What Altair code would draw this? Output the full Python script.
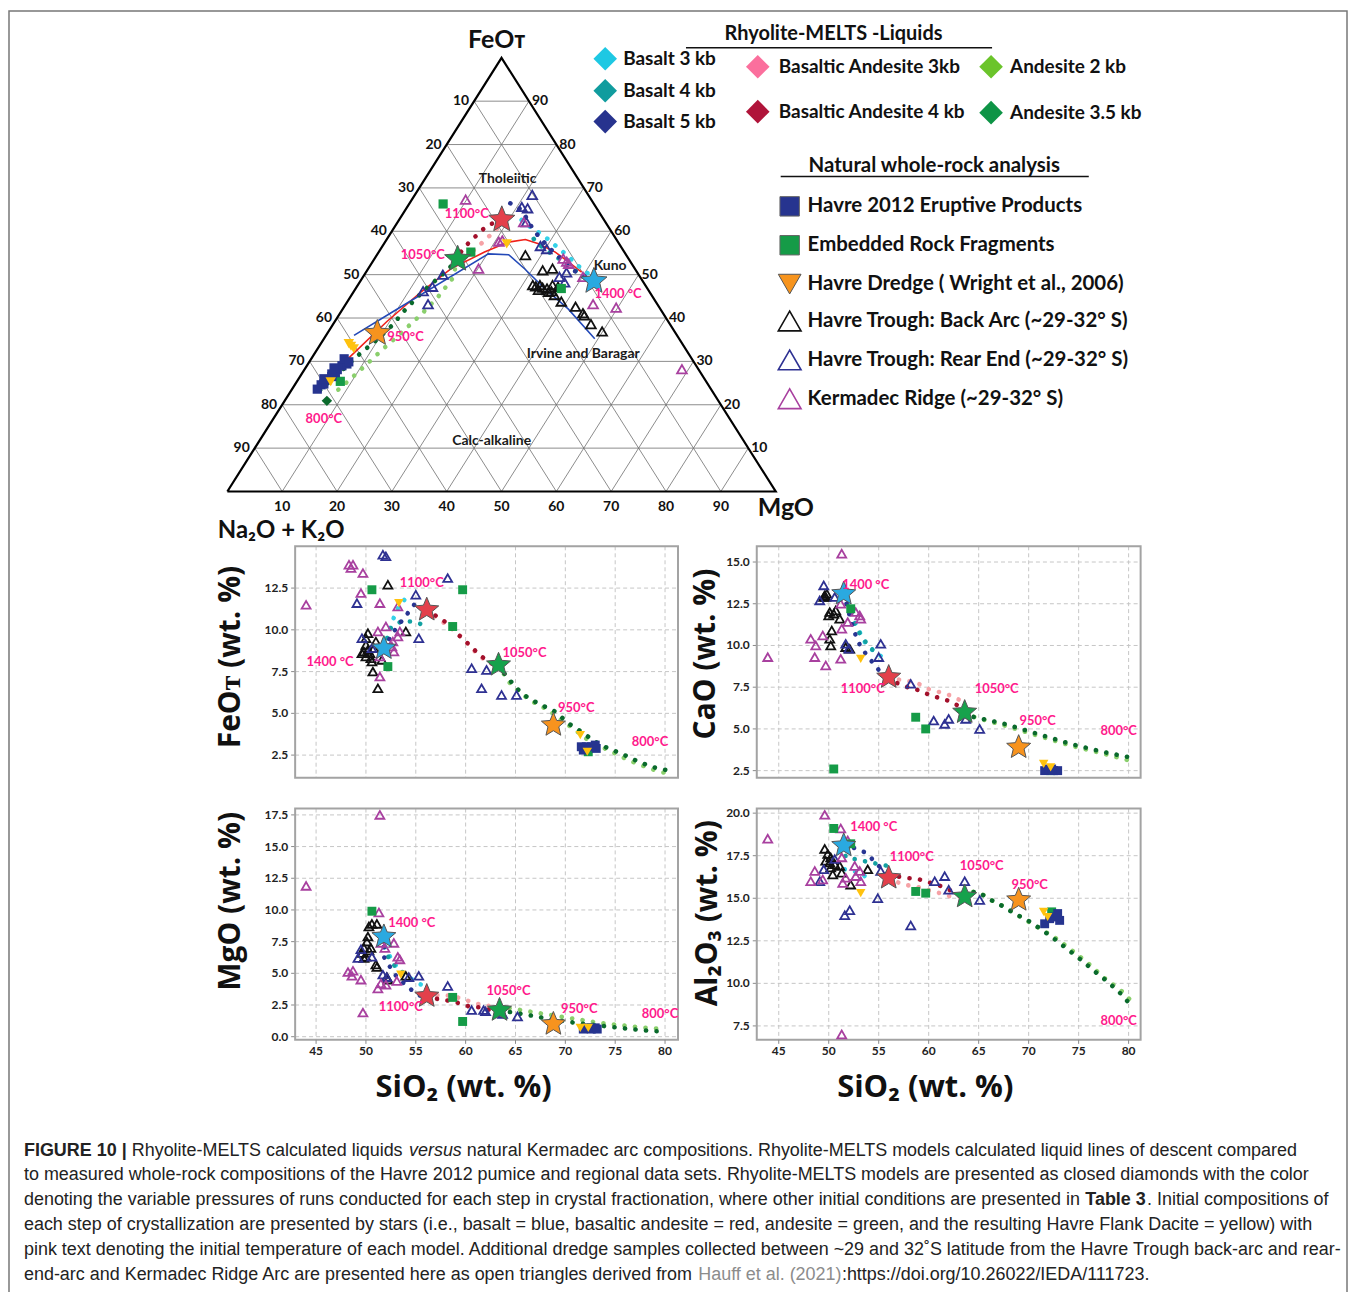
import altair as alt
import pandas as pd

# ============================== DATA ==============================
MODEL_NAMES = ["Basalt 3 kb", "Basalt 4 kb", "Basalt 5 kb",
               "Basaltic Andesite 3kb", "Basaltic Andesite 4 kb",
               "Andesite 2 kb", "Andesite 3.5 kb"]
NATURAL_NAMES = ["Havre 2012 Eruptive Products", "Embedded Rock Fragments",
                 "Havre Dredge ( Wright et al., 2006)",
                 "Havre Trough: Back Arc (~29-32° S)",
                 "Havre Trough: Rear End (~29-32° S)",
                 "Kermadec Ridge (~29-32° S)"]
STAR_NAMES = ["basalt", "basaltic andesite", "andesite", "dacite"]
TEMP_NAMES = ["1400 °C", "1100°C", "1050°C", "950°C", "800°C"]

# ---- AFM ternary, pairs are (FeOT %, MgO %); Na2O+K2O = 100 - FeOT - MgO ----
TERN_TICKS = [10, 20, 30, 40, 50, 60, 70, 80, 90]
TERN_CORNERS = [(0, 0), (0, 100), (100, 0), (0, 0)]
TERN_BASALT_3KB = [(48.5, 42.6), (49.9, 41.2), (52.0, 38.0), (54.1, 35.2), (56.2, 32.2),
                   (58.3, 29.2), (60.0, 26.5), (61.7, 23.6), (63.0, 21.8)]
TERN_BASALT_4KB = [(48.5, 42.6), (49.1, 40.9), (51.4, 37.2), (53.9, 33.3), (56.0, 29.7),
                   (58.0, 27.0), (59.8, 25.2)]
TERN_BASALT_5KB = [(48.5, 42.6), (51.0, 37.6), (56.3, 30.4), (60.0, 26.0), (62.1, 23.9),
                   (63.6, 22.5), (65.1, 20.9), (66.7, 17.9)]
TERN_BAS_AND_3KB = [(62.7, 18.7), (61.0, 19.0), (58.5, 18.2), (56.0, 17.3), (53.8, 16.3)]
TERN_BAS_AND_4KB = [(62.7, 18.7), (61.3, 16.7), (59.0, 15.9), (56.8, 15.2), (54.5, 14.9),
                    (53.6, 15.2)]
TERN_AND_2KB = [(53.6, 15.2), (49.1, 16.5), (45.0, 16.0), (41.0, 15.0), (36.8, 13.5),
                (33.0, 12.0), (29.5, 10.8), (26.0, 9.5), (23.0, 8.3)]
TERN_AND_35KB = [(53.6, 15.2), (51.0, 14.6), (46.1, 12.6), (42.0, 11.5), (38.3, 10.9),
                 (35.0, 9.8), (32.9, 8.8), (30.5, 7.8), (28.0, 7.0), (25.5, 6.0),
                 (23.0, 5.1), (21.5, 5.6)]
TERN_AND_35KB_END = [(20.9, 7.7)]
TERN_KUNO_LINE = [(23.9, 4.2), (31.0, 6.8), (39.2, 9.5), (46.0, 12.3), (51.4, 15.1),
                  (55.2, 19.3), (57.5, 22.5), (58.1, 25.3), (57.1, 28.2), (55.2, 32.2),
                  (52.9, 35.8), (50.6, 39.3)]
TERN_IB_LINE = [(36.0, 5.1), (41.4, 9.4), (54.8, 20.2), (54.6, 24.0), (51.3, 28.6),
                (46.7, 34.6), (42.1, 41.1), (35.2, 49.4)]
TERN_HAVRE2012 = [(24.6, 4.8), (25.8, 5.3), (27.1, 5.5), (28.1, 6.0), (29.0, 6.4), (29.4, 7.1),
                  (24.8, 5.2), (27.4, 6.0), (30.6, 6.0), (29.9, 7.2), (26.0, 4.6), (28.5, 5.2),
                  (23.6, 4.6), (26.5, 5.8)]
TERN_EMBEDDED = [(66.3, 6.2), (55.2, 16.8), (25.4, 7.9), (46.8, 37.5)]
TERN_DREDGE = [(34.1, 5.1), (32.9, 6.6), (33.5, 5.8), (25.3, 6.2), (57.1, 22.4)]
TERN_BACKARC = [(54.5, 27.1), (51.0, 32.0), (51.4, 33.6), (47.6, 31.9), (47.3, 32.6),
                (46.8, 34.9), (47.6, 35.5), (47.2, 36.7), (45.3, 37.0), (46.2, 36.0),
                (43.8, 39.0), (42.6, 42.2), (41.1, 44.3), (40.6, 44.8), (38.6, 47.0),
                (36.9, 49.9), (47.6, 33.2), (46.0, 35.6), (47.0, 34.0), (46.5, 33.5)]
TERN_REAREND = [(68.4, 21.4), (65.6, 20.9), (65.3, 22.1), (62.1, 23.5), (56.6, 28.8),
                (55.9, 30.3), (49.5, 35.8), (50.5, 36.6), (50.0, 14.3), (47.2, 13.8),
                (46.2, 12.6), (43.2, 15.0), (48.2, 37.4)]
TERN_KERMADEC = [(67.3, 9.8), (57.9, 21.2), (51.4, 20.1), (62.1, 23.0), (53.7, 34.4),
                 (53.0, 35.4), (49.5, 40.1), (43.2, 45.1), (42.4, 49.7), (28.2, 68.8),
                 (57.6, 20.7), (52.5, 36.0)]
TERN_STARS = [(48.5, 42.6), (62.7, 18.7), (53.6, 15.2), (36.5, 9.1)]
TERN_TEMP_LABELS = [(45.5, 48.5), (63.9, 11.7), (54.5, 8.4), (35.6, 14.7), (16.6, 9.3)]
TERN_REGION_NAMES = ["Tholeiitic", "Kuno", "Irvine and Baragar", "Calc-alkaline"]
TERN_REGION_POS = [(72.0, 15.1), (52.0, 43.8), (31.7, 49.05), (11.7, 42.35)]

# ---- Harker diagrams, pairs are (SiO2, oxide) in wt.% ----
HARKER_X_TICKS = [45, 50, 55, 60, 65, 70, 75, 80]
FEO_TICKS = [2.5, 5.0, 7.5, 10.0, 12.5]
CAO_TICKS = [2.5, 5.0, 7.5, 10.0, 12.5, 15.0]
MGO_TICKS = [0.0, 2.5, 5.0, 7.5, 10.0, 12.5, 15.0, 17.5]
AL_TICKS = [7.5, 10.0, 12.5, 15.0, 17.5, 20.0]

FEO_KERMADEC = [(44.0, 11.5), (48.3, 13.9), (48.7, 13.9), (48.5, 13.7), (49.7, 13.4), (49.5, 12.2),
                (51.4, 11.6), (53.2, 11.4), (51.2, 9.9), (52.0, 10.2), (52.7, 9.3), (53.2, 9.6),
                (53.4, 9.9), (52.8, 8.7), (51.4, 8.4), (51.4, 7.2), (52.6, 9.0)]
FEO_REAREND = [(51.7, 14.5), (52.0, 14.4), (49.1, 11.6), (49.6, 9.5), (50.6, 8.9), (55.0, 12.1),
               (55.3, 9.5), (58.2, 13.1), (60.6, 7.7), (62.1, 7.6), (61.6, 6.5), (63.6, 6.1),
               (65.1, 6.1)]
FEO_BACKARC = [(50.2, 9.8), (50.0, 9.5), (49.8, 8.7), (50.0, 8.4), (50.2, 8.8), (50.5, 8.3),
               (50.8, 8.9), (50.6, 8.1), (51.6, 8.2), (52.2, 12.7), (54.0, 9.9), (50.7, 7.5),
               (51.2, 6.5), (50.0, 9.1), (51.0, 9.3), (49.6, 8.6), (50.4, 8.6)]
FEO_HAVRE2012 = [(71.6, 3.0), (72.1, 3.0), (72.6, 3.0), (73.1, 2.9), (71.8, 2.8), (73.0, 3.1)]
FEO_EMBEDDED = [(50.6, 12.4), (52.2, 7.8), (58.7, 10.2), (59.7, 12.4), (72.3, 2.7)]
FEO_DREDGE = [(53.3, 11.6), (71.5, 3.7), (72.2, 2.7)]
FEO_STARS = [(51.8, 8.9), (56.1, 11.2), (63.3, 7.9), (68.8, 4.3)]
FEO_BASALT_3KB = [(51.8, 8.9), (52.2, 9.7), (52.7, 10.6), (53.3, 11.4), (54.0, 11.9), (54.3, 12.0)]
FEO_BASALT_4KB = [(51.8, 8.9), (52.5, 10.1), (53.5, 10.5), (54.5, 10.5), (55.3, 10.4), (56.0, 10.2)]
FEO_BASALT_5KB = [(51.8, 8.9), (52.8, 9.9), (53.8, 10.7), (54.6, 11.3), (55.3, 11.9)]
FEO_BAS_AND_3KB = [(56.1, 11.2), (57.4, 10.6), (58.8, 10.0), (60.0, 9.3), (61.1, 8.6), (62.3, 8.0)]
FEO_BAS_AND_4KB = [(56.1, 11.2), (57.9, 10.5), (59.1, 9.8), (60.2, 9.2), (61.4, 8.5), (62.5, 8.0),
                   (63.3, 7.9)]
FEO_AND_2KB = [(63.3, 7.9), (64.3, 6.9), (65.5, 6.2), (67.0, 5.6), (68.3, 5.2), (69.6, 4.6),
               (71.0, 4.0), (72.3, 3.4), (73.6, 3.0), (75.0, 2.6), (76.3, 2.2), (77.6, 1.9),
               (79.0, 1.6), (80.2, 1.4)]
FEO_AND_35KB = [(63.3, 7.9), (64.1, 7.2), (65.3, 6.4), (66.3, 5.9), (67.6, 5.5), (69.0, 5.1),
                (70.3, 4.4), (71.6, 3.9), (73.0, 3.3), (74.3, 2.9), (75.6, 2.6), (77.0, 2.2),
                (78.6, 1.8), (80.2, 1.6)]
FEO_TEMP_LABELS = [(46.4, 8.1), (55.6, 12.8), (65.9, 8.6), (71.1, 5.3), (78.5, 3.3)]

CAO_KERMADEC = [(43.9, 9.3), (51.3, 15.5), (48.2, 10.4), (48.7, 10.0), (49.4, 10.6), (48.6, 9.3),
                (49.7, 8.8), (51.2, 9.2), (51.3, 11.0), (51.2, 12.5), (51.9, 11.4), (52.7, 12.0),
                (53.1, 11.8), (53.2, 11.6)]
CAO_REAREND = [(49.5, 13.6), (49.1, 12.7), (50.6, 12.9), (51.7, 10.1), (52.0, 9.8), (55.2, 10.1),
               (55.0, 9.3), (58.2, 7.7), (60.5, 5.5), (61.6, 5.3), (62.0, 5.6), (63.7, 5.6),
               (65.1, 5.0)]
CAO_BACKARC = [(49.6, 13.0), (49.5, 12.9), (49.8, 13.1), (50.1, 12.0), (50.5, 11.9), (50.7, 12.1),
               (51.1, 11.6), (50.3, 10.9), (50.1, 10.4), (50.2, 10.0), (51.7, 9.9), (52.1, 9.8),
               (49.7, 12.9), (50.0, 11.8)]
CAO_HAVRE2012 = [(71.6, 2.5), (72.0, 2.6), (72.5, 2.5), (72.9, 2.5), (72.3, 2.6)]
CAO_EMBEDDED = [(50.5, 2.6), (58.7, 5.7), (59.7, 5.0), (52.2, 12.2), (72.2, 2.5)]
CAO_DREDGE = [(53.2, 9.2), (71.5, 2.9), (72.2, 2.7)]
CAO_STARS = [(51.5, 13.1), (56.0, 8.1), (63.6, 6.0), (69.0, 3.9)]
CAO_BASALT_3KB = [(51.5, 13.1), (51.9, 12.4), (52.5, 11.6), (53.1, 10.8), (53.7, 10.1), (54.6, 9.6),
                  (55.4, 9.3), (55.9, 9.0)]
CAO_BASALT_4KB = [(51.5, 13.1), (52.0, 12.2), (52.6, 11.3), (53.2, 10.6), (54.1, 9.9), (55.0, 9.4)]
CAO_BASALT_5KB = [(51.5, 13.1), (51.9, 12.2), (52.5, 10.9), (53.2, 9.9), (54.1, 9.2), (54.9, 8.6),
                  (55.7, 8.1)]
CAO_BAS_AND_3KB = [(56.0, 8.1), (57.4, 7.9), (58.7, 7.8), (59.9, 7.4), (61.1, 7.2), (62.2, 7.0),
                   (63.2, 6.7)]
CAO_BAS_AND_4KB = [(56.0, 8.1), (56.6, 7.8), (57.9, 7.5), (59.1, 7.3), (60.2, 7.0), (61.4, 6.8),
                   (62.4, 6.6), (63.4, 6.2)]
CAO_AND_2KB = [(63.6, 6.0), (64.6, 5.7), (67.6, 5.2), (70.9, 4.6), (74.2, 4.0), (77.6, 3.5),
               (80.1, 3.1)]
CAO_AND_35KB = [(63.6, 6.0), (63.9, 5.8), (67.6, 5.3), (70.9, 4.7), (74.2, 4.1), (77.6, 3.6),
                (80.1, 3.3)]
CAO_TEMP_LABELS = [(53.7, 13.65), (53.4, 7.4), (66.8, 7.4), (70.9, 5.5), (79.0, 4.85)]

MGO_KERMADEC = [(44.0, 11.9), (51.4, 17.5), (51.3, 9.8), (48.2, 5.1), (48.7, 5.2), (48.6, 4.8),
                (49.5, 4.5), (49.7, 1.9), (51.2, 3.8), (51.5, 4.2), (52.0, 4.1), (52.8, 7.4),
                (53.2, 6.3), (53.4, 6.1), (53.1, 4.4), (51.5, 7.4), (51.9, 7.0)]
MGO_REAREND = [(49.5, 6.9), (49.2, 6.2), (50.6, 6.3), (51.7, 4.9), (52.1, 4.7), (55.3, 4.8),
               (54.3, 4.7), (58.2, 4.0), (60.6, 2.1), (61.8, 2.1), (62.0, 2.0), (63.7, 1.8),
               (65.2, 1.6)]
MGO_BACKARC = [(50.3, 8.7), (50.6, 8.9), (51.1, 8.9), (50.2, 7.9), (50.1, 7.5), (49.8, 7.0),
               (50.3, 6.8), (50.5, 7.0), (49.6, 6.6), (50.0, 6.3), (49.8, 6.2), (51.0, 5.7),
               (51.1, 5.5), (52.1, 4.7), (54.0, 4.8), (52.2, 4.5)]
MGO_HAVRE2012 = [(71.8, 0.6), (72.2, 0.7), (72.6, 0.6), (73.0, 0.7), (73.2, 0.6)]
MGO_EMBEDDED = [(50.6, 9.9), (58.7, 3.1), (59.7, 1.2), (72.6, 0.7)]
MGO_DREDGE = [(53.5, 4.9), (71.5, 0.7), (72.3, 0.7)]
MGO_STARS = [(51.8, 7.9), (56.1, 3.2), (63.4, 2.1), (68.8, 1.0)]
MGO_BASALT_3KB = [(51.8, 7.9), (51.8, 7.5), (52.1, 6.7), (52.6, 6.1), (53.1, 5.5), (53.8, 5.0),
                  (54.5, 4.6), (55.1, 4.3), (56.0, 3.9)]
MGO_BASALT_4KB = [(51.8, 7.9), (51.8, 7.2), (52.1, 6.5), (52.6, 5.8), (53.3, 5.3), (54.0, 4.9)]
MGO_BASALT_5KB = [(51.8, 7.9), (51.8, 6.3), (52.5, 5.4), (53.2, 4.6), (54.0, 4.1), (54.7, 3.6),
                  (55.5, 3.2), (56.1, 3.2)]
MGO_BAS_AND_3KB = [(56.1, 3.2), (57.5, 3.3), (58.8, 3.2), (60.0, 2.9), (61.1, 2.6), (62.1, 2.5),
                   (63.4, 2.1)]
MGO_BAS_AND_4KB = [(56.1, 3.2), (57.0, 3.0), (57.9, 2.9), (59.1, 2.7), (60.3, 2.4), (61.5, 2.3),
                   (62.5, 2.1)]
MGO_AND_2KB = [(63.4, 2.1), (64.0, 2.3), (66.3, 2.0), (68.6, 1.7), (71.0, 1.4), (73.3, 1.1),
               (75.6, 0.9), (78.0, 0.7), (80.1, 0.6)]
MGO_AND_35KB = [(63.4, 2.1), (64.0, 2.0), (66.0, 1.75), (68.0, 1.45), (70.0, 1.2), (72.0, 1.0),
                (74.3, 0.8), (76.6, 0.6), (78.6, 0.45), (80.1, 0.4)]
MGO_TEMP_LABELS = [(54.6, 9.0), (53.5, 2.35), (64.3, 3.6), (71.4, 2.2), (79.5, 1.8)]

AL_KERMADEC = [(43.9, 18.5), (49.6, 19.9), (51.2, 19.1), (51.3, 7.0), (48.6, 16.6), (48.2, 16.0),
               (49.4, 16.1), (51.3, 17.4), (51.9, 18.4), (51.4, 15.9), (51.7, 16.2), (52.6, 16.9),
               (52.7, 16.3), (53.1, 16.6), (53.2, 16.0)]
AL_REAREND = [(49.5, 16.7), (49.1, 16.0), (50.6, 17.3), (51.6, 14.0), (52.1, 14.3), (54.9, 15.0),
              (55.2, 16.6), (58.2, 13.4), (60.6, 16.0), (61.6, 16.3), (62.0, 15.5), (63.6, 16.0),
              (65.1, 14.9)]
AL_BACKARC = [(49.6, 17.9), (49.9, 17.6), (50.2, 17.4), (50.1, 17.1), (50.6, 17.0), (50.4, 16.4),
              (51.1, 16.9), (51.3, 16.5), (52.2, 15.8), (53.9, 16.7), (49.7, 17.2), (50.2, 16.8)]
AL_HAVRE2012 = [(71.6, 13.5), (72.1, 13.8), (72.6, 13.9), (73.1, 13.7), (72.9, 14.1)]
AL_EMBEDDED = [(50.5, 19.1), (52.2, 18.2), (58.7, 15.4), (59.7, 15.3), (72.3, 14.2)]
AL_DREDGE = [(53.2, 15.3), (71.5, 14.2), (71.9, 13.9)]
AL_STARS = [(51.5, 18.1), (56.0, 16.2), (63.6, 15.1), (69.0, 14.9)]
AL_BASALT_3KB = [(51.6, 16.7), (52.4, 16.6), (53.1, 16.5), (53.6, 16.3), (54.1, 16.0)]
AL_BASALT_4KB = [(51.5, 18.1), (51.7, 17.4), (52.6, 17.3), (53.4, 17.2), (54.2, 17.1), (55.1, 17.0),
                 (55.9, 16.9)]
AL_BASALT_5KB = [(51.5, 18.1), (52.2, 18.0), (52.9, 17.9), (53.6, 17.7), (54.2, 17.4), (54.8, 17.0),
                 (55.4, 16.7), (55.8, 16.4)]
AL_BAS_AND_3KB = [(56.0, 16.2), (57.4, 15.8), (58.7, 15.7), (59.8, 15.5), (61.1, 15.3), (62.2, 15.1),
                  (63.6, 15.1)]
AL_BAS_AND_4KB = [(56.0, 16.2), (56.6, 16.3), (57.8, 16.2), (59.1, 16.1), (60.2, 15.9), (61.3, 15.7),
                  (62.4, 15.4)]
AL_AND_2KB = [(63.6, 15.1), (64.2, 15.4), (65.2, 15.3), (66.2, 14.9), (67.6, 14.5), (69.2, 13.9),
              (70.9, 13.3), (72.6, 12.7), (74.2, 12.0), (75.9, 11.2), (77.6, 10.3), (79.2, 9.6),
              (80.2, 9.0)]
AL_AND_35KB = [(63.6, 15.1), (63.9, 15.3), (64.9, 15.4), (65.9, 15.0), (67.2, 14.6), (68.6, 14.1),
               (69.9, 13.7), (71.2, 13.2), (72.6, 12.6), (73.9, 12.0), (75.2, 11.4), (76.6, 10.7),
               (77.9, 10.1), (79.2, 9.4), (80.1, 8.8)]
AL_TEMP_LABELS = [(54.5, 19.2), (58.3, 17.4), (65.3, 16.9), (70.1, 15.8), (79.0, 7.8)]

# caption: each line is a list of (text segment, style, space-after)
CAPTION_LINES = [
    [("FIGURE 10 |", "bold", True), ("Rhyolite-MELTS calculated liquids", "normal", True),
     ("versus", "italic", True),
     ("natural Kermadec arc compositions. Rhyolite-MELTS models calculated liquid lines of descent compared",
      "normal", False)],
    [("to measured whole-rock compositions of the Havre 2012 pumice and regional data sets. Rhyolite-MELTS models are presented as closed diamonds with the color",
      "normal", False)],
    [("denoting the variable pressures of runs conducted for each step in crystal fractionation, where other initial conditions are presented in",
      "normal", True), ("Table 3", "bold", False), (". Initial compositions of", "normal", False)],
    [("each step of crystallization are presented by stars (i.e., basalt = blue, basaltic andesite = red, andesite = green, and the resulting Havre Flank Dacite = yellow) with",
      "normal", False)],
    [("pink text denoting the initial temperature of each model. Additional dredge samples collected between ~29 and 32˚S latitude from the Havre Trough back-arc and rear-",
      "normal", False)],
    [("end-arc and Kermadec Ridge Arc are presented here as open triangles derived from", "normal", True),
     ("Hauff et al. (2021)", "link", False), (":https://doi.org/10.26022/IEDA/111723.", "normal", False)],
]

# ============================== STYLE / LAYOUT ==============================
W, H = 1340, 1284
FONT = "Lato"
TFONT = "Open Sans"
CFONT = "Liberation Sans"
CAP_SIZE = 18
PINK = "#FF1A8C"
GRID = "#C6C6C6"
MODEL_DIAMOND_COLORS = ["#1EC8E3", "#109C9E", "#27338E", "#FB6F9D", "#B0143A", "#6BC42B", "#0E9446"]
MODEL_DOT_COLORS = ["#35D2E8", "#12A1A1", "#283592", "#F6A2A6", "#A3102B", "#8ACF6C", "#0A6A2C"]
NATURAL_COLORS = ["#26348F", "#159B47", "#F7941D", "#111111", "#2E3192", "#A8409F"]
DREDGE_DATA_COLOR = "#FFC20E"
STAR_COLORS = ["#2AA9E0", "#E3404B", "#16A24C", "#F7931E"]
STAR_PATH = ("M0,-1L0.2645,-0.364L0.951,-0.309L0.428,0.139L0.588,0.809L0,0.45"
             "L-0.588,0.809L-0.428,0.139L-0.951,-0.309L-0.2645,-0.364Z")
DOTS = dict(strokeWidth=4.6, strokeCap="round", strokeDash=[0.1, 10.5], opacity=1)

TRI_NAMES = NATURAL_NAMES[3:]
TRI_COLORS = NATURAL_COLORS[3:]
SQ_NAMES = NATURAL_NAMES[:2]
SQ_COLORS = NATURAL_COLORS[:2]
model_color = alt.Color("series:N", scale=alt.Scale(domain=MODEL_NAMES, range=MODEL_DOT_COLORS), legend=None)
tri_color = alt.Color("series:N", scale=alt.Scale(domain=TRI_NAMES, range=TRI_COLORS), legend=None)
sq_color = alt.Color("series:N", scale=alt.Scale(domain=SQ_NAMES, range=SQ_COLORS), legend=None)
star_fill = alt.Fill("series:N", scale=alt.Scale(domain=STAR_NAMES, range=STAR_COLORS), legend=None)
one = pd.DataFrame({"a": [0]})


def pairs_df(pairs, series, a, b):
    return pd.DataFrame({"series": [series] * len(pairs), "idx": list(range(len(pairs))),
                         a: [p[0] for p in pairs], b: [p[1] for p in pairs]})


def stack(named, a, b):
    return pd.concat([pairs_df(p, n, a, b) for n, p in named], ignore_index=True)


def labels_df(texts, pairs, a, b):
    df = pairs_df(pairs, "lbl", a, b)
    df["label"] = texts
    return df


# ============================== TERNARY ==============================
TX = alt.X("tx:Q", scale=alt.Scale(domain=[0, 100], range=[220, 770], nice=False, zero=False), axis=None)
TY = alt.Y("F:Q", scale=alt.Scale(domain=[0, 100], range=[482, 47], nice=False, zero=False), axis=None)


def tern(df):
    return alt.Chart(df).transform_calculate(tx="datum.M + datum.F / 2")


grid_rows = []
for v in TERN_TICKS:
    grid_rows.append({"F": v, "M": 0, "F2": v, "M2": 100 - v})
    grid_rows.append({"F": 0, "M": v, "F2": 100 - v, "M2": v})
    grid_rows.append({"F": 0, "M": 100 - v, "F2": 100 - v, "M2": 0})
t_grid = alt.Chart(pd.DataFrame(grid_rows)).transform_calculate(
    tx="datum.M + datum.F / 2", tx2="datum.M2 + datum.F2 / 2"
).mark_rule(color="#6E6E6E", strokeWidth=0.8).encode(TX, TY, x2="tx2:Q", y2="F2:Q")
t_edges = tern(pairs_df(TERN_CORNERS, "edge", "F", "M")).mark_line(
    color="#000000", strokeWidth=2.2, strokeJoin="miter").encode(TX, TY, order="idx:Q")
tern_models = list(zip(MODEL_NAMES, [TERN_BASALT_3KB, TERN_BASALT_4KB, TERN_BASALT_5KB, TERN_BAS_AND_3KB,
                                     TERN_BAS_AND_4KB, TERN_AND_2KB, TERN_AND_35KB]))
t_lines = tern(stack(tern_models, "F", "M")).mark_line(**DOTS).encode(TX, TY, color=model_color, order="idx:Q")
t_end = tern(pairs_df(TERN_AND_35KB_END, "end", "F", "M")).mark_point(
    shape="diamond", filled=True, size=110, opacity=1, color=MODEL_DOT_COLORS[6]).encode(TX, TY)
t_kuno = tern(pairs_df(TERN_KUNO_LINE, "kuno", "F", "M")).mark_line(
    color="#F0201A", strokeWidth=1.6).encode(TX, TY, order="idx:Q")
t_ib = tern(pairs_df(TERN_IB_LINE, "ib", "F", "M")).mark_line(
    color="#2349B8", strokeWidth=1.6).encode(TX, TY, order="idx:Q")
t_tri = tern(stack([(TRI_NAMES[0], TERN_BACKARC), (TRI_NAMES[1], TERN_REAREND),
                    (TRI_NAMES[2], TERN_KERMADEC)], "F", "M")).mark_point(
    shape="triangle-up", filled=False, strokeWidth=1.8, size=95, opacity=1).encode(TX, TY, color=tri_color)
t_sq = tern(stack([(SQ_NAMES[1], TERN_EMBEDDED), (SQ_NAMES[0], TERN_HAVRE2012)], "F", "M")).mark_point(
    shape="square", filled=True, size=85, opacity=1).encode(TX, TY, color=sq_color)
t_dr = tern(pairs_df(TERN_DREDGE, "dredge", "F", "M")).mark_point(
    shape="triangle-down", filled=True, size=110, opacity=1, color=DREDGE_DATA_COLOR).encode(TX, TY)
t_stars = tern(pd.DataFrame({"series": STAR_NAMES, "F": [p[0] for p in TERN_STARS],
                             "M": [p[1] for p in TERN_STARS]})).mark_point(
    shape=STAR_PATH, filled=True, size=760, opacity=1, stroke="#555555", strokeWidth=1).encode(TX, TY, fill=star_fill)
t_temps = tern(labels_df(TEMP_NAMES, TERN_TEMP_LABELS, "F", "M")).mark_text(
    font=FONT, fontSize=13, fontWeight="bold", color=PINK).encode(TX, TY, text="label:N")
t_regions = tern(labels_df(TERN_REGION_NAMES, TERN_REGION_POS, "F", "M")).mark_text(
    font=FONT, fontSize=14, fontWeight="bold", color="#1A1A1A").encode(TX, TY, text="label:N")
TICK_STYLE = dict(font=FONT, fontSize=14, fontWeight="bold", color="#111111")
tick_texts = [str(v) for v in TERN_TICKS]
t_tl = tern(labels_df(tick_texts, [(100 - v, 0) for v in TERN_TICKS], "F", "M")).mark_text(
    align="right", dx=-5, **TICK_STYLE).encode(TX, TY, text="label:N")
t_tr = tern(labels_df(tick_texts, [(v, 100 - v) for v in TERN_TICKS], "F", "M")).mark_text(
    align="left", dx=3, **TICK_STYLE).encode(TX, TY, text="label:N")
t_tb = tern(labels_df(tick_texts, [(0, v) for v in TERN_TICKS], "F", "M")).mark_text(
    dy=16, **TICK_STYLE).encode(TX, TY, text="label:N")
CORNER_STYLE = dict(font=FONT, fontWeight="bold", color="#111111")
t_cf = tern(labels_df(["FeOᴛ"], [(100, 0)], "F", "M")).mark_text(
    dx=-5, dy=-18, fontSize=25, **CORNER_STYLE).encode(TX, TY, text="label:N")
t_cm = tern(labels_df(["MgO"], [(0, 100)], "F", "M")).mark_text(
    align="left", dx=-18, dy=17, fontSize=25, **CORNER_STYLE).encode(TX, TY, text="label:N")
t_ca = tern(labels_df(["Na₂O + K₂O"], [(0, 0)], "F", "M")).mark_text(
    dx=54, dy=40, fontSize=24, **CORNER_STYLE).encode(TX, TY, text="label:N")
ternary_layers = [t_grid, t_edges, t_kuno, t_ib, t_lines, t_end, t_tri, t_sq, t_dr, t_stars,
                  t_temps, t_regions, t_tl, t_tr, t_tb, t_cf, t_cm, t_ca]

# ============================== LEGEND (pixel layout) ==============================
PY = alt.Y("py:Q", scale=None)
model_cols = [(599, 617, [48, 80, 111], MODEL_NAMES[0:3]),
              (752, 773, [56, 101], MODEL_NAMES[3:5]),
              (986, 1005, [56, 102], MODEL_NAMES[5:7])]
leg_m = []
for sx, tx_, ys, names in model_cols:
    for yy, nm in zip(ys, names):
        leg_m.append({"series": nm, "sx": sx, "tx": tx_, "py": yy})
leg_m = pd.DataFrame(leg_m)
leg_n = pd.DataFrame({"series": NATURAL_NAMES, "sx": 784, "tx": 802,
                      "py": [196, 235, 274, 311, 350, 389]})
LEG_TEXT = dict(font=FONT, fontWeight="bold", color="#111111", align="left", baseline="middle")
SX = alt.X("sx:Q", scale=None)
LX = alt.X("tx:Q", scale=None)
legend_layers = [
    alt.Chart(one).mark_text(text="Rhyolite-MELTS -Liquids", font=FONT, fontSize=20, fontWeight="bold",
                             color="#111111").encode(x=alt.value(828), y=alt.value(23)),
    alt.Chart(one).mark_rule(color="#111111", strokeWidth=1.5).encode(
        x=alt.value(680), x2=alt.value(987), y=alt.value(37)),
    alt.Chart(one).mark_text(text="Natural whole-rock analysis", font=FONT, fontSize=20.5, fontWeight="bold",
                             color="#111111").encode(x=alt.value(929), y=alt.value(156)),
    alt.Chart(one).mark_rule(color="#111111", strokeWidth=1.5).encode(
        x=alt.value(775), x2=alt.value(1084), y=alt.value(166)),
    alt.Chart(leg_m).mark_point(shape="diamond", filled=True, size=560, opacity=1).encode(
        SX, PY, color=alt.Color("series:N", scale=alt.Scale(domain=MODEL_NAMES, range=MODEL_DIAMOND_COLORS),
                                legend=None)),
    alt.Chart(leg_m).mark_text(fontSize=19, **LEG_TEXT).encode(LX, PY, text="series:N"),
    alt.Chart(leg_n.iloc[0:2]).mark_point(shape="square", filled=True, size=380, opacity=1,
                                          stroke="#666666", strokeWidth=1).encode(
        SX, PY, fill=alt.Fill("series:N", scale=alt.Scale(domain=SQ_NAMES, range=SQ_COLORS), legend=None)),
    alt.Chart(leg_n.iloc[2:3]).mark_point(shape="triangle-down", filled=True, size=520, opacity=1,
                                          stroke="#555555", strokeWidth=1, fill=NATURAL_COLORS[2]).encode(SX, PY),
    alt.Chart(leg_n.iloc[3:6]).mark_point(shape="triangle-up", filled=False, size=520, opacity=1,
                                          strokeWidth=1.6).encode(
        SX, PY, color=alt.Color("series:N", scale=alt.Scale(domain=TRI_NAMES, range=TRI_COLORS), legend=None)),
    alt.Chart(leg_n).mark_text(fontSize=20.5, **LEG_TEXT).encode(LX, PY, text="series:N"),
]


# ============================== HARKER PANELS ==============================
def harker(box, xdom, ydom, yvals, show_x, ytitle, ttx, tty, models, backarc, rearend, kermadec,
           havre, embedded, dredge, stars, temps):
    L, R, T, B = box
    X = alt.X("si:Q", scale=alt.Scale(domain=xdom, range=[L, R], nice=False, zero=False), axis=None)
    Y = alt.Y("v:Q", scale=alt.Scale(domain=ydom, range=[B, T], nice=False, zero=False), axis=None)
    xt = pd.DataFrame({"si": HARKER_X_TICKS})
    yt = pd.DataFrame({"v": yvals})
    lab = dict(font=FONT, fontSize=12, fontWeight="bold", color="#222222")
    layers = [
        alt.Chart(xt).mark_rule(color=GRID, strokeDash=[4, 3], strokeWidth=1).encode(
            X, y=alt.value(T), y2=alt.value(B)),
        alt.Chart(yt).mark_rule(color=GRID, strokeDash=[4, 3], strokeWidth=1).encode(
            Y, x=alt.value(L), x2=alt.value(R)),
        alt.Chart(yt).mark_rule(color="#8A8A8A", strokeWidth=1).encode(
            Y, x=alt.value(L - 4), x2=alt.value(L)),
        alt.Chart(one).mark_rect(fill=None, stroke="#A3A3A3", strokeWidth=2).encode(
            x=alt.value(L), x2=alt.value(R), y=alt.value(T), y2=alt.value(B)),
        alt.Chart(yt).mark_text(align="right", baseline="middle", **lab).encode(
            Y, x=alt.value(L - 7), text=alt.Text("v:Q", format=".1f")),
        alt.Chart(one).mark_text(text=ytitle, angle=270, font=TFONT, fontSize=30, fontWeight="bold",
                                 color="#111111", baseline="middle").encode(
            x=alt.value(L + ttx), y=alt.value(T + tty)),
    ]
    if show_x:
        layers += [
            alt.Chart(xt).mark_rule(color="#8A8A8A", strokeWidth=1).encode(
                X, y=alt.value(B), y2=alt.value(B + 4)),
            alt.Chart(xt).mark_text(baseline="middle", **lab).encode(X, y=alt.value(B + 11), text="si:Q"),
            alt.Chart(one).mark_text(text="SiO₂ (wt. %)", font=TFONT, fontSize=31, fontWeight="bold",
                                     color="#111111", baseline="middle").encode(
                x=alt.value(L + 169), y=alt.value(B + 48)),
        ]
    named = list(zip(MODEL_NAMES, models))
    layers += [
        alt.Chart(stack(named, "si", "v")).mark_line(**DOTS).encode(X, Y, color=model_color, order="idx:Q"),
        alt.Chart(stack([(TRI_NAMES[0], backarc), (TRI_NAMES[1], rearend), (TRI_NAMES[2], kermadec)],
                        "si", "v")).mark_point(shape="triangle-up", filled=False, strokeWidth=1.8,
                                               size=80, opacity=1).encode(X, Y, color=tri_color),
        alt.Chart(stack([(SQ_NAMES[1], embedded), (SQ_NAMES[0], havre)], "si", "v")).mark_point(
            shape="square", filled=True, size=80, opacity=1).encode(X, Y, color=sq_color),
        alt.Chart(pairs_df(dredge, "dredge", "si", "v")).mark_point(
            shape="triangle-down", filled=True, size=90, opacity=1, color=DREDGE_DATA_COLOR).encode(X, Y),
        alt.Chart(pd.DataFrame({"series": STAR_NAMES, "si": [p[0] for p in stars],
                                "v": [p[1] for p in stars]})).mark_point(
            shape=STAR_PATH, filled=True, size=640, opacity=1, stroke="#555555", strokeWidth=1).encode(
            X, Y, fill=star_fill),
        alt.Chart(labels_df(TEMP_NAMES, temps, "si", "v")).mark_text(
            font=FONT, fontSize=13, fontWeight="bold", color=PINK).encode(X, Y, text="label:N"),
    ]
    return layers


panel_layers = []
panel_layers += harker((288, 672, 537, 769), [42.9, 81.3], [1.15, 15.0], FEO_TICKS, False, "FeOᴛ (wt. %)", -64, 111,
                       [FEO_BASALT_3KB, FEO_BASALT_4KB, FEO_BASALT_5KB, FEO_BAS_AND_3KB, FEO_BAS_AND_4KB,
                        FEO_AND_2KB, FEO_AND_35KB], FEO_BACKARC, FEO_REAREND, FEO_KERMADEC, FEO_HAVRE2012,
                       FEO_EMBEDDED, FEO_DREDGE, FEO_STARS, FEO_TEMP_LABELS)
panel_layers += harker((751, 1136, 537, 769), [42.8, 81.2], [2.08, 15.94], CAO_TICKS, False, "CaO (wt. %)", -51, 108,
                       [CAO_BASALT_3KB, CAO_BASALT_4KB, CAO_BASALT_5KB, CAO_BAS_AND_3KB, CAO_BAS_AND_4KB,
                        CAO_AND_2KB, CAO_AND_35KB], CAO_BACKARC, CAO_REAREND, CAO_KERMADEC, CAO_HAVRE2012,
                       CAO_EMBEDDED, CAO_DREDGE, CAO_STARS, CAO_TEMP_LABELS)
panel_layers += harker((288, 672, 800, 1032), [42.9, 81.3], [-0.25, 18.0], MGO_TICKS, True, "MgO (wt. %)", -64, 93,
                       [MGO_BASALT_3KB, MGO_BASALT_4KB, MGO_BASALT_5KB, MGO_BAS_AND_3KB, MGO_BAS_AND_4KB,
                        MGO_AND_2KB, MGO_AND_35KB], MGO_BACKARC, MGO_REAREND, MGO_KERMADEC, MGO_HAVRE2012,
                       MGO_EMBEDDED, MGO_DREDGE, MGO_STARS, MGO_TEMP_LABELS)
panel_layers += harker((751, 1136, 800, 1032), [42.8, 81.2], [6.68, 20.27], AL_TICKS, True, "Al₂O₃ (wt. %)", -49, 105,
                       [AL_BASALT_3KB, AL_BASALT_4KB, AL_BASALT_5KB, AL_BAS_AND_3KB, AL_BAS_AND_4KB,
                        AL_AND_2KB, AL_AND_35KB], AL_BACKARC, AL_REAREND, AL_KERMADEC, AL_HAVRE2012,
                       AL_EMBEDDED, AL_DREDGE, AL_STARS, AL_TEMP_LABELS)

# ============================== CAPTION (flowed with Arial/Liberation metrics) ==============================
_REG = {" ": 278, "!": 278, "(": 333, ")": 333, ",": 278, "-": 333, ".": 278, "/": 278, ":": 278,
        "=": 584, "~": 584, "|": 260, "˚": 333, "A": 667, "B": 667, "C": 722, "D": 722, "E": 667,
        "F": 611, "G": 778, "H": 722, "I": 278, "J": 500, "K": 667, "L": 556, "M": 833, "N": 722,
        "O": 778, "P": 667, "Q": 778, "R": 722, "S": 667, "T": 611, "U": 722, "V": 667, "W": 944,
        "X": 667, "Y": 667, "Z": 611, "a": 556, "b": 556, "c": 500, "d": 556, "e": 556, "f": 278,
        "g": 556, "h": 556, "i": 222, "j": 222, "k": 500, "l": 222, "m": 833, "n": 556, "o": 556,
        "p": 556, "q": 556, "r": 333, "s": 500, "t": 278, "u": 556, "v": 500, "w": 722, "x": 500,
        "y": 500, "z": 500}
_BOLD = dict(_REG)
_BOLD.update({"|": 280, "A": 722, "B": 722, "J": 556, "K": 722, "L": 611, "a": 556, "b": 611,
              "c": 556, "d": 611, "f": 333, "g": 611, "h": 611, "i": 278, "j": 278, "k": 556,
              "l": 278, "m": 889, "n": 611, "o": 611, "p": 611, "q": 611, "r": 389, "s": 556,
              "t": 333, "u": 611, "v": 556, "w": 778, "x": 556, "y": 556})


def text_width(s, bold):
    tbl = _BOLD if bold else _REG
    return sum(tbl.get(c, 556) for c in s) * CAP_SIZE / 1000.0


cap_layers = []
for li, segs in enumerate(CAPTION_LINES):
    x = 16.0
    y = 1143 + 25 * li
    for txt, style, space_after in segs:
        kw = dict(font=CFONT, fontSize=CAP_SIZE, color="#222222", align="left", baseline="middle")
        if style == "bold":
            kw["fontWeight"] = "bold"
        elif style == "italic":
            kw["fontStyle"] = "italic"
        elif style == "link":
            kw["color"] = "#8C8C8C"
        cap_layers.append(alt.Chart(one).mark_text(text=txt, **kw).encode(x=alt.value(round(x, 1)),
                                                                         y=alt.value(y)))
        x += text_width(txt, style == "bold") + (text_width(" ", False) if space_after else 0)

frame = alt.Chart(one).mark_rect(fill=None, stroke="#777777", strokeWidth=1.5).encode(
    x=alt.value(1), x2=alt.value(1343), y=alt.value(0), y2=alt.value(1300))

chart = alt.layer(
    frame, *ternary_layers, *legend_layers, *panel_layers, *cap_layers
).resolve_scale(
    x="independent", y="independent", color="independent", fill="independent"
).properties(width=W, height=H, padding=0).configure_view(stroke=None)

chart.save("out.html", embed_options={"renderer": "svg", "actions": False})
